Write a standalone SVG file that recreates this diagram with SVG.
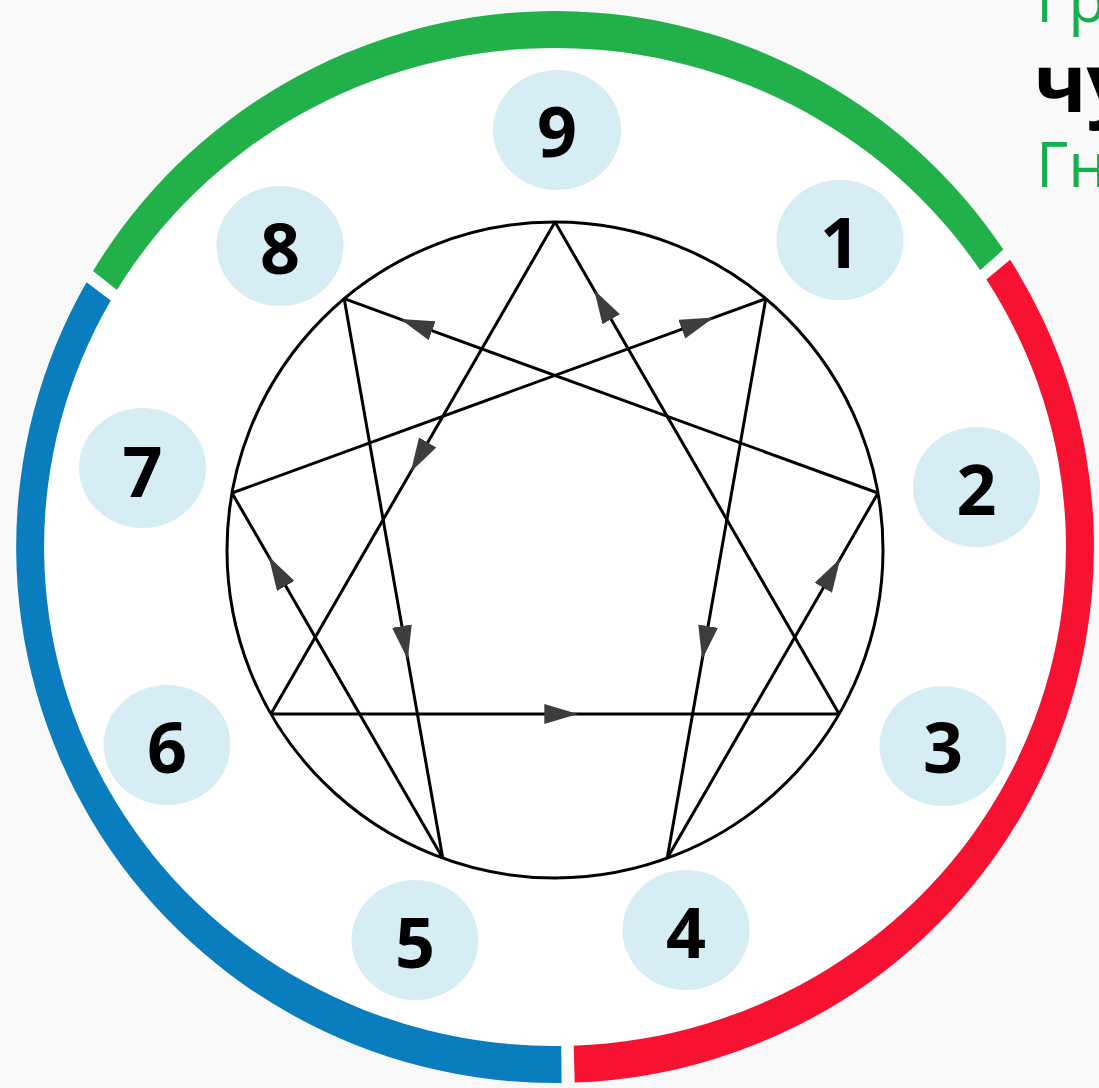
<svg xmlns="http://www.w3.org/2000/svg" width="1099" height="1088" viewBox="0 0 1099 1088">
<defs>
<style>
.node ellipse{fill:#d6edf4}
.node text{font-family:"Open Sans","Noto Sans","Liberation Sans",sans-serif;font-weight:700;font-size:70px;fill:#000;text-anchor:middle}
.edge{fill:none;stroke:#000;stroke-width:3;marker-mid:url(#ah)}
.hdr{font-family:"Open Sans","Noto Sans","Liberation Sans",sans-serif}
</style>
<marker id="ah" viewBox="0 0 34 20" refX="34" refY="10" markerWidth="34" markerHeight="20" markerUnits="userSpaceOnUse" orient="auto">
<path d="M0,0 L34,10 L0,20 Z" fill="#3d3d3d"/>
</marker>
</defs>
<rect width="1099" height="1088" fill="#f9f9f9"/>
<g id="ring">
<ellipse cx="555" cy="547" rx="525" ry="517" fill="#ffffff"/>
<path d="M 93.0 271.0 A 539 536 0 0 1 1003.4 249.6 L 980.2 270.2 A 511 499 0 0 0 117.0 290.0 Z" fill="#22b04b"/>
<path d="M 1010.1 259.8 A 539 536 0 0 1 574.7 1082.6 L 573.7 1045.7 A 511 499 0 0 0 986.4 279.6 Z" fill="#f81231"/>
<path d="M 561.6 1083.0 A 539 536 0 0 1 86.5 282.3 L 110.8 300.5 A 511 499 0 0 0 561.2 1046.0 Z" fill="#0a7dbe"/>
</g>
<g id="enneagram-circle">
<circle cx="555" cy="550" r="328" fill="none" stroke="#000" stroke-width="3"/>
</g>
<g id="connectors">
<path class="edge" d="M555,222 L410.7,471.9 L270.9,714"/>
<path class="edge" d="M270.9,714 L578.3,714 L839.1,714"/>
<path class="edge" d="M839.1,714 L594.2,289.9 L555,222"/>
<path class="edge" d="M765.8,298.7 L702.2,659.6 L667.2,858.2"/>
<path class="edge" d="M667.2,858.2 L840.3,558.4 L878,493"/>
<path class="edge" d="M878,493 L400.2,319.1 L344.2,298.7"/>
<path class="edge" d="M344.2,298.7 L407.8,659.6 L442.8,858.2"/>
<path class="edge" d="M442.8,858.2 L268.7,556.5 L232,493"/>
<path class="edge" d="M232,493 L713.8,317.6 L765.8,298.7"/>
</g>
<g id="node-9" class="node"><ellipse cx="557" cy="130" rx="64" ry="60"/><text x="557" y="157">9</text></g>
<g id="node-1" class="node"><ellipse cx="840" cy="240" rx="63.5" ry="60"/><text x="840" y="268">1</text></g>
<g id="node-2" class="node"><ellipse cx="976.5" cy="487" rx="63.5" ry="60"/><text x="976.5" y="515">2</text></g>
<g id="node-3" class="node"><ellipse cx="943" cy="746" rx="63.5" ry="60"/><text x="943" y="773">3</text></g>
<g id="node-4" class="node"><ellipse cx="686" cy="930" rx="63.5" ry="60"/><text x="686" y="958">4</text></g>
<g id="node-5" class="node"><ellipse cx="415" cy="940" rx="63.5" ry="60"/><text x="415" y="968">5</text></g>
<g id="node-6" class="node"><ellipse cx="167" cy="745" rx="63.5" ry="60"/><text x="167" y="773">6</text></g>
<g id="node-7" class="node"><ellipse cx="142.5" cy="468" rx="63.5" ry="60"/><text x="142.5" y="497">7</text></g>
<g id="node-8" class="node"><ellipse cx="280" cy="246" rx="63.5" ry="60"/><text x="280" y="274">8</text></g>
<g id="header">
<text class="hdr" x="1036" y="22" font-size="62" fill="#12b04f">Гр</text>
<text class="hdr" x="1034" y="112" font-size="80" font-weight="700" fill="#000">чу</text>
<text class="hdr" x="1036" y="187" font-size="62" fill="#12b04f">Гн</text>
</g>
</svg>
